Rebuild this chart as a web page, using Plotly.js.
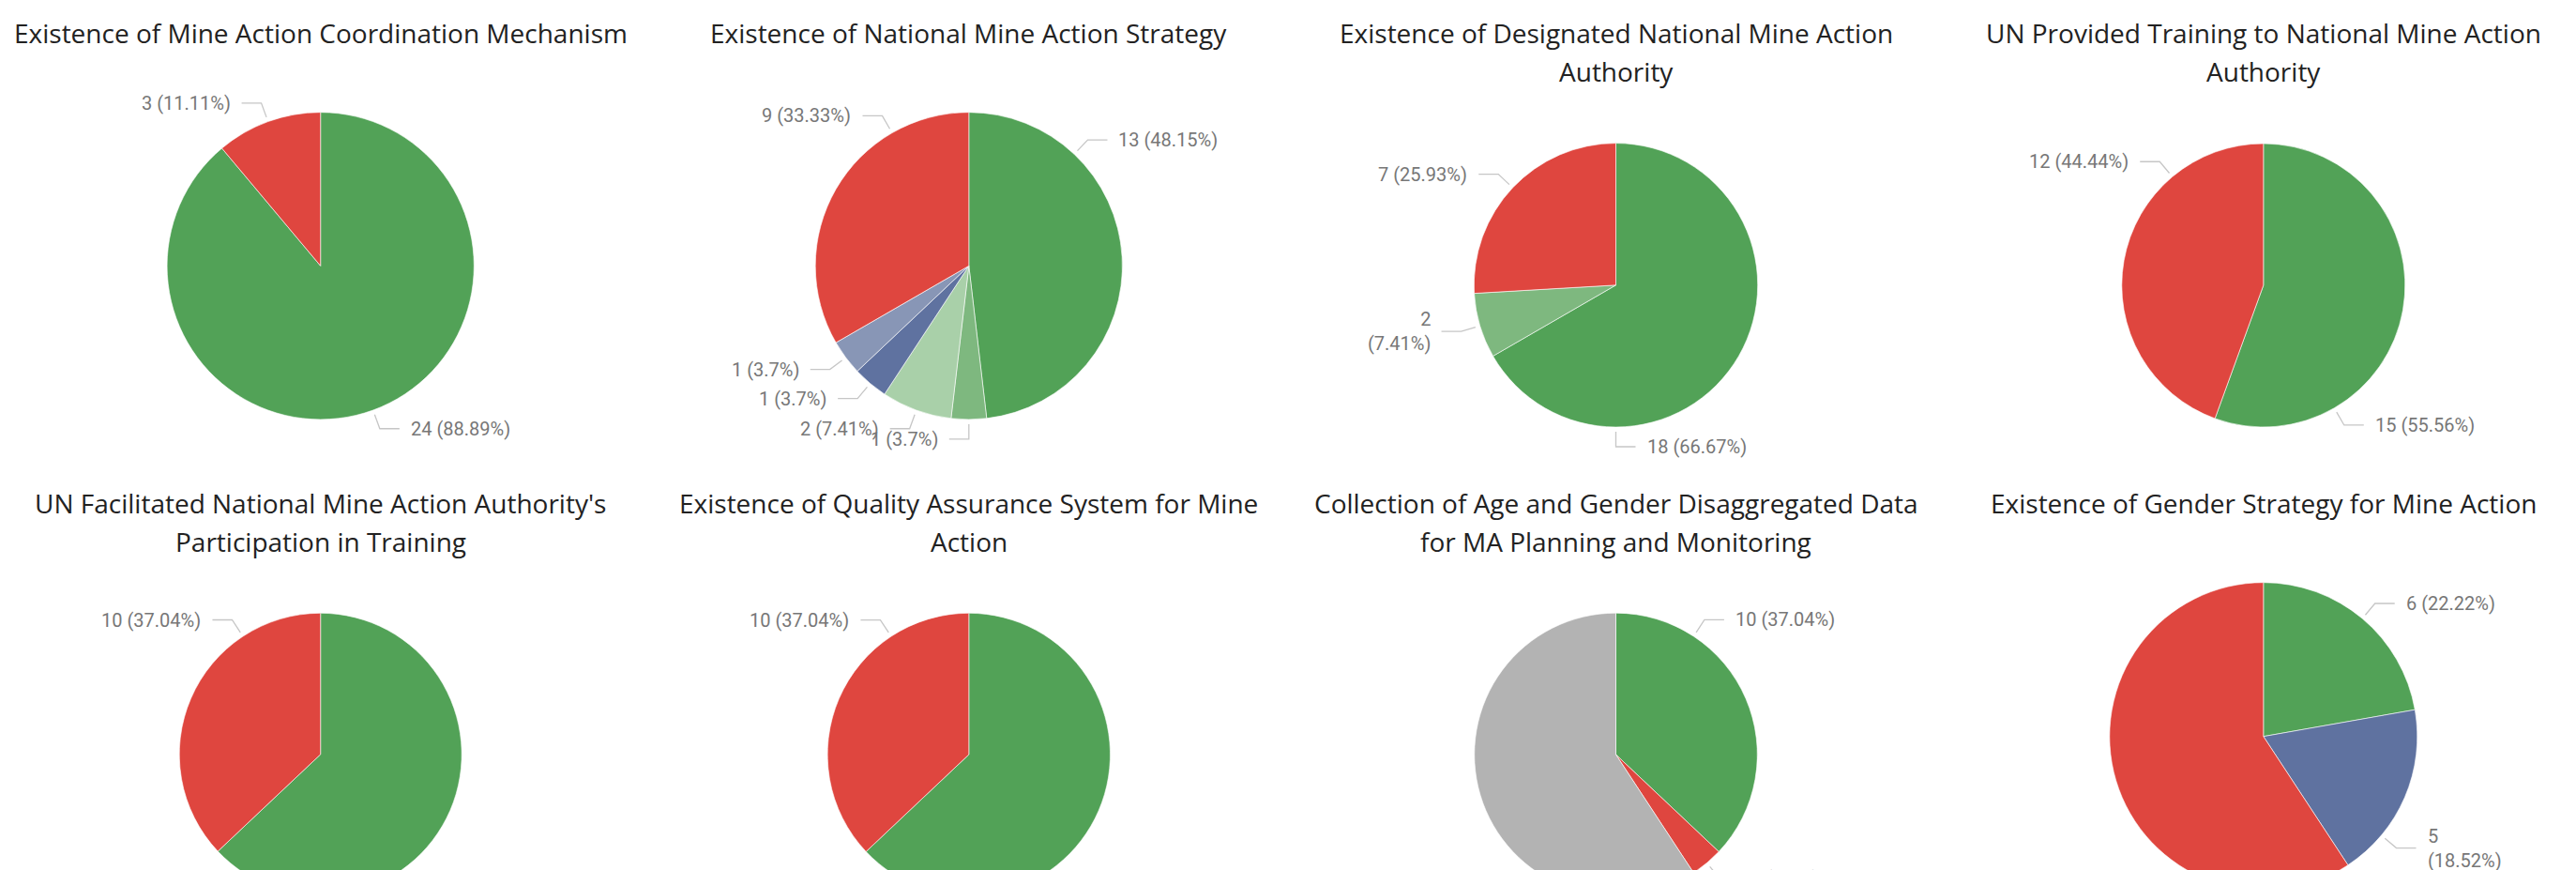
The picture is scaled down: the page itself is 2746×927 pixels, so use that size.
<!DOCTYPE html>
<html>
<head>
<meta charset="utf-8">
<script src="https://cdn.plot.ly/plotly-3.0.1.min.js"></script>
<style>
  html, body { margin: 0; padding: 0; background: #ffffff; overflow: hidden; width: 2746px; height: 927px; }
  #wrap { position: relative; width: 2746px; height: 927px; overflow: hidden; }
  #chart { position: absolute; left: 0; top: 0; width: 2746px; height: 1000px; }
</style>
</head>
<body>
<div id="wrap"><div id="chart"></div></div>
<script>
// ---------------- DATA ----------------
const title1 = "Existence of Mine Action Coordination Mechanism";
const title2 = "Existence of National Mine Action Strategy";
const title3 = "Existence of Designated National Mine Action\nAuthority";
const title4 = "UN Provided Training to National Mine Action\nAuthority";
const title5 = "UN Facilitated National Mine Action Authority's\nParticipation in Training";
const title6 = "Existence of Quality Assurance System for Mine\nAction";
const title7 = "Collection of Age and Gender Disaggregated Data\nfor MA Planning and Monitoring";
const title8 = "Existence of Gender Strategy for Mine Action";

const cats1 = ["Yes", "No"];
const values1 = [24, 3];
const cats2 = ["Yes", "Yes (2)", "Yes (3)", "Other (1)", "Other (2)", "No"];
const values2 = [13, 1, 2, 1, 1, 9];
const cats3 = ["Yes", "Yes (2)", "No"];
const values3 = [18, 2, 7];
const cats4 = ["Yes", "No"];
const values4 = [15, 12];
const cats5 = ["Yes", "No"];
const values5 = [17, 10];
const cats6 = ["Yes", "No"];
const values6 = [17, 10];
const cats7 = ["Yes", "No", "No data"];
const values7 = [10, 1, 16];
const cats8 = ["Yes", "Other", "No"];
const values8 = [6, 5, 16];

// ---------------- STYLE ----------------
const GREEN = "#52a257", GREEN2 = "#7eb87f", GREEN3 = "#a9d0a9";
const RED = "#df463f", BLUE = "#5f72a0", BLUE2 = "#8896b6", GREY = "#b3b3b3";
const colors1 = [GREEN, RED];
const colors2 = [GREEN, GREEN2, GREEN3, BLUE, BLUE2, RED];
const colors3 = [GREEN, GREEN2, RED];
const colors4 = [GREEN, RED];
const colors5 = [GREEN, RED];
const colors6 = [GREEN, RED];
const colors7 = [GREEN, RED, GREY];
const colors8 = [GREEN, BLUE, RED];

const charts = [
  { title: title1, cats: cats1, values: values1, colors: colors1 },
  { title: title2, cats: cats2, values: values2, colors: colors2 },
  { title: title3, cats: cats3, values: values3, colors: colors3 },
  { title: title4, cats: cats4, values: values4, colors: colors4 },
  { title: title5, cats: cats5, values: values5, colors: colors5 },
  { title: title6, cats: cats6, values: values6, colors: colors6 },
  { title: title7, cats: cats7, values: values7, colors: colors7 },
  { title: title8, cats: cats8, values: values8, colors: colors8 }
];

// Layout in page pixels
const W = 2746, H = 1000, VISIBLE_H = 927;
const COL_X = [341.7, 1032.8, 1722.5, 2412.8];
const PIES = [
  { col: 0, cy: 283.3, r: 163.6 }, { col: 1, cy: 283.3, r: 163.6 },
  { col: 2, cy: 303.8, r: 151.2 }, { col: 3, cy: 304.0, r: 151.0 },
  { col: 0, cy: 803.8, r: 150.5 }, { col: 1, cy: 804.0, r: 150.7 },
  { col: 2, cy: 804.0, r: 150.8 }, { col: 3, cy: 784.7, r: 164.0 }
];
const TITLE_Y = [[35], [35], [35, 76], [35, 76], [536, 577.3], [536, 577.3], [536, 577.3], [536]];
// where along each slice's arc the data label sits (0 = start, 1 = end)
const LABEL_FRAC = [[0.5, 0.5], [0.25, 0.5, 0.5, 0.5, 0.5, 0.75], [0.75, 0.5, 0.5], [0.75, 0.75],
                    [0.75, 0.75], [0.75, 0.75], [0.25, 0.5, 0.25], [0.5, 0.75, 0.25]];
const LABEL_WRAP = [[], [], [1], [], [], [], [], [1]];

const TITLE_FONT = { family: "Open Sans, Noto Sans, sans-serif", size: 28, color: "#222222" };
const LABEL_FONT = { family: "Roboto, sans-serif", size: 20, color: "#777777" };
const LEADER = { color: "#c6c6c6", width: 1.3 };

function pctText(v, tot) { return String(Math.round(v / tot * 10000) / 100); }

const traces = [], annotations = [], shapes = [];
const px = x => x / W, py = y => 1 - y / H;

charts.forEach((c, i) => {
  const g = PIES[i];
  const cx = COL_X[g.col], cy = g.cy, r = g.r;
  traces.push({
    type: "pie", values: c.values, labels: c.cats, sort: false, direction: "clockwise", rotation: 0,
    marker: { colors: c.colors, line: { color: "#ffffff", width: 0.6 } },
    textinfo: "none", hoverinfo: "label+value+percent", showlegend: false,
    domain: { x: [px(cx - r), px(cx + r)], y: [py(cy + r), py(cy - r)] }
  });
  // title lines
  c.title.split("\n").forEach((line, k) => {
    annotations.push({ text: line, xref: "paper", yref: "paper", x: px(cx), y: py(TITLE_Y[i][k]),
      xanchor: "center", yanchor: "middle", showarrow: false, font: TITLE_FONT });
  });
  // data labels with leader lines
  const tot = c.values.reduce((a, b) => a + b, 0);
  let cum = 0;
  c.values.forEach((v, j) => {
    const a0 = cum / tot, a1 = (cum + v) / tot; cum += v;
    const th = (a0 + (a1 - a0) * LABEL_FRAC[i][j]) * 2 * Math.PI;
    const s = Math.sin(th), co = Math.cos(th);
    const sm = Math.sin((a0 + a1) * Math.PI);
    const side = Math.abs(s) > 1e-9 ? Math.sign(s) : (Math.abs(sm) > 1e-9 ? Math.sign(sm) : -1);
    const p1 = [cx + (r + 5) * s, cy - (r + 5) * co];
    const p2 = [cx + (r + 21) * s, cy - (r + 21) * co];
    const p3 = [p2[0] + side * 21, p2[1]];
    const wrap = LABEL_WRAP[i].includes(j);
    const halfH = wrap ? 24 : 11;
    if (p1[1] > VISIBLE_H || p3[1] - halfH > VISIBLE_H) return; // lies below the page, not visible
    shapes.push({ type: "path", xref: "paper", yref: "paper", layer: "above",
      path: `M${px(p1[0])},${py(p1[1])} L${px(p2[0])},${py(p2[1])} L${px(p3[0])},${py(p3[1])}`,
      line: LEADER });
    const p = pctText(v, tot);
    const txt = wrap ? `${v}<br>(${p}%)` : `${v} (${p}%)`;
    annotations.push({ text: txt, xref: "paper", yref: "paper", x: px(p3[0] + side * 10), y: py(p3[1]),
      xanchor: side > 0 ? "left" : "right", yanchor: "middle", align: side > 0 ? "left" : "right",
      showarrow: false, font: LABEL_FONT });
  });
});

Plotly.newPlot("chart", traces, {
  width: W, height: H, margin: { l: 0, r: 0, t: 0, b: 0 },
  paper_bgcolor: "#ffffff", plot_bgcolor: "#ffffff",
  annotations: annotations, shapes: shapes
}, { displayModeBar: false, staticPlot: true });
</script>
</body>
</html>
